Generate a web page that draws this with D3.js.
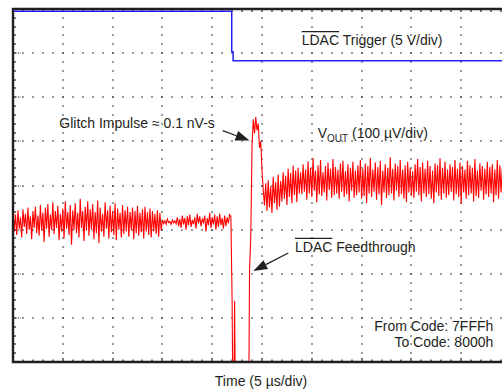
<!DOCTYPE html>
<html><head><meta charset="utf-8">
<script src="https://cdn.jsdelivr.net/npm/d3@7"></script>
<style>html,body{margin:0;padding:0;background:#fff;} svg{display:block;}</style>
</head><body><svg id="c" width="502" height="390"></svg>
<script>
const sampleUs = 0.125;            // sample interval
const voutPreUv = [
-60,-104,-66,-112,-56,-98,-72,-118,-54,-94,
-64,-110,-50,-100,-70,-122,-58,-96,-48,-108,
-68,-114,-44,-102,-62,-128,-50,-98,-42,-116,
-66,-100,-38,-110,-58,-96,-46,-124,-64,-104,
-52,-120,-36,-98,-60,-112,-44,-134,-56,-100,
-40,-108,-62,-118,-30,-96,-58,-126,-48,-102,
-36,-114,-54,-100,-42,-122,-60,-108,-34,-130,
-50,-104,-64,-116,-38,-98,-56,-120,-46,-106,
-58,-112,-40,-124,-52,-100,-62,-118,-44,-110,
-56,-104,-48,-116,-60,-102,-50,-122,-58,-108,
-46,-114,-62,-106,-54,-120,-48,-104,-60,-112,
-52,-118,-58,-104,-64,-110,-56,-116,-62,-102];
const voutQuietUv = [
-78,-86,-80,-88,-76,-84,-82,-88,-78,-85,-80,-87,
-72,-92,-76,-96,-68,-88,-74,-100,-70,-90,
-66,-94,-78,-88,-72,-98,-64,-86,-70,-92,
-76,-84,-68,-104,-74,-90,-62,-96,-72,-88,
-66,-100,-70,-94,-64,-90,-74,-98,-68,-92,
-72,-86,-66,-70];
const voutGlitchUv = [
-262,-650,-262,-650,-650,-650,-650,-650,-650,-650,-650,-650,-650,-650,
-190,-115,90,150,118,155,125,140,85,100,35];
const voutSettleUv = [
-10,-45,5,-58,12,-50,-2,-62,20,-40,8,-55,25,-48,10,
-36,30,-30,22,-44,38,-26,28,-40,45,-22,34,-38,40,-18];
const voutPostUv = [
30,-20,48,-14,36,-32,55,-18,40,-26,
62,-12,34,-38,46,-20,58,-24,30,-16,
44,-34,52,-10,38,-28,60,-22,42,-18,
36,-30,50,-14,56,-26,32,-20,48,-36,
40,-12,54,-28,34,-22,46,-16,58,-30,
38,-24,50,-40,44,-18,62,-26,36,-14,
52,-32,42,-20,56,-44,34,-16,48,-28,
40,-22,64,-18,38,-34,50,-12,44,-26,
58,-20,36,-30,46,-38,54,-16,40,-24,
32,-28,48,-14,60,-22,42,-36,52,-18,
38,-26,56,-20,44,-30,34,-40,50,-16,
46,-24,62,-32,40,-18,54,-28,36,-22,
48,-14,42,-34,58,-20,38,-26,52,-42,
44,-16,36,-30,56,-22,46,-18,40,-36,
60,-24,34,-28,50,-12,44,-32,38,-20,
54,-26,42,-18,48,-38,36,-22,58,-30,
46,-16,40];
const triggerTimesUs = [0, 21.96, 21.96, 22.1, 22.1, 50];
const triggerVolts   = [5.6, 5.6, 1.0, 1.0, 0, 0];

const timeDomainUs = [0, 50];        // 10 div x 5 us
const voutDomainUv = [-400, 400];    // 8 div x 100 uV
const triggerDomainV = [-34.15, 5.85]; // 8 div x 5 V, offset
const timeMajorUs = d3.range(0, 50.001, 5);
const timeMinorUs = d3.range(0, 50.001, 1);
const voutMajorUv = d3.range(-400, 400.001, 100);
const voutMinorUv = d3.range(-400, 400.001, 20);

const labels = {
  trigger: ["LDAC", " Trigger (5 V/div)"],
  glitch: "Glitch Impulse \u2248 0.1 nV-s",
  vout: ["V", "OUT", " (100 \u00b5V/div)"],
  feed: ["LDAC", " Feedthrough"],
  from: "From Code: 7FFFh",
  to: "To Code: 8000h",
  xAxis: "Time (5 \u00b5s/div)"
};

// ---- drawing ----
const svg = d3.select("#c");
const plot = {left: 13, top: 9, right: 511, bottom: 362};
const x = d3.scaleLinear().domain(timeDomainUs).range([plot.left, plot.right]);
const y = d3.scaleLinear().domain(voutDomainUv).range([plot.bottom, plot.top]);
const yT = d3.scaleLinear().domain(triggerDomainV).range([plot.bottom, plot.top]);
const ink = "#231f20";
const font = "'Liberation Sans', Arial, Helvetica, sans-serif";

svg.append("defs").append("clipPath").attr("id", "clip")
  .append("rect").attr("x", plot.left).attr("y", plot.top)
  .attr("width", plot.right - plot.left).attr("height", plot.bottom - plot.top);

// grid dots
const grid = svg.append("g").attr("fill", "#333");
const dots = [];
voutMajorUv.slice(1, -1).forEach(v => timeMinorUs.slice(1).forEach(t => dots.push([x(t), y(v)])));
timeMajorUs.slice(1, -1).forEach(t => voutMinorUv.slice(1, -1).forEach(v => dots.push([x(t), y(v)])));
grid.selectAll("rect.d").data(dots).join("rect").attr("class", "d")
  .attr("x", d => Math.round(d[0]) - 0.7).attr("y", d => Math.round(d[1]) - 0.7)
  .attr("width", 1.4).attr("height", 1.4);
// short dotted ticks at the left edge of major rows
const ticks = svg.append("g").attr("stroke", ink).attr("stroke-width", 1.2);
voutMajorUv.slice(1, -1).forEach(v => {
  ticks.append("line").attr("x1", plot.left).attr("x2", plot.left + 8)
    .attr("y1", Math.round(y(v))).attr("y2", Math.round(y(v)))
    .attr("stroke-dasharray", "1.2,1.3");
});
voutMinorUv.slice(1, -1).forEach(v => {
  ticks.append("line").attr("x1", plot.left).attr("x2", plot.left + 3)
    .attr("y1", Math.round(y(v))).attr("y2", Math.round(y(v)));
});
timeMinorUs.slice(1).forEach(t => {
  const len = timeMajorUs.includes(t) ? 4 : 2.5;
  ticks.append("line").attr("x1", Math.round(x(t))).attr("x2", Math.round(x(t)))
    .attr("y1", plot.top).attr("y2", plot.top + 3);
  ticks.append("line").attr("x1", Math.round(x(t))).attr("x2", Math.round(x(t)))
    .attr("y1", plot.bottom).attr("y2", plot.bottom - len);
});

// traces
const traces = svg.append("g").attr("clip-path", "url(#clip)");
const trig = triggerTimesUs.map((t, i) => [t, triggerVolts[i]]);
traces.append("path").datum(trig)
  .attr("d", d3.line().x(d => x(d[0])).y(d => yT(d[1])))
  .attr("fill", "none").attr("stroke", "#1f1fff").attr("stroke-width", 1.5);

const vout = [].concat(voutPreUv, voutQuietUv, voutGlitchUv, voutSettleUv, voutPostUv);
traces.append("path").datum(vout)
  .attr("d", d3.line().x((d, i) => x(i * sampleUs)).y(d => y(d)))
  .attr("fill", "none").attr("stroke", "#ff0000").attr("stroke-width", 1.1)
  .attr("stroke-linejoin", "miter");

// frame
const frame = svg.append("g").attr("stroke", ink).attr("stroke-width", 2.4).attr("fill", "none");
frame.append("path").attr("d", `M${plot.right},${plot.top}H${plot.left}V${plot.bottom}H${plot.right}`);

// texts
const txt = svg.append("g").attr("font-family", font).attr("font-size", 14).attr("fill", ink);
function overlined(xp, yp, parts) {
  const t = txt.append("text").attr("x", xp).attr("y", yp);
  t.append("tspan").text(parts[0]);
  t.append("tspan").text(parts[1]);
  const w = t.node().getSubStringLength(0, parts[0].length);
  txt.append("line").attr("x1", xp).attr("x2", xp + w)
    .attr("y1", yp - 13.3).attr("y2", yp - 13.3)
    .attr("stroke", ink).attr("stroke-width", 1.3);
}
overlined(301.7, 45, labels.trigger);
overlined(295, 251.7, labels.feed);
txt.append("text").attr("x", 59.3).attr("y", 128.3).text(labels.glitch);
const vt = txt.append("text").attr("x", 317.7).attr("y", 138);
vt.append("tspan").text(labels.vout[0]);
vt.append("tspan").attr("font-size", 10).attr("dy", 3.5).text(labels.vout[1]);
vt.append("tspan").attr("dy", -3.5).text(labels.vout[2]);
txt.append("text").attr("x", 493.3).attr("y", 330.7).attr("text-anchor", "end").text(labels.from);
txt.append("text").attr("x", 493.3).attr("y", 346.7).attr("text-anchor", "end").text(labels.to);
txt.append("text").attr("x", 261).attr("y", 386).attr("text-anchor", "middle").text(labels.xAxis);

// arrows
function arrow(x1, y1, x2, y2) {
  const dx = x2 - x1, dy = y2 - y1, L = Math.hypot(dx, dy);
  const ux = dx / L, uy = dy / L, hl = 14, hw = 5;
  const bx = x2 - ux * hl, by = y2 - uy * hl;
  svg.append("line").attr("x1", x1).attr("y1", y1).attr("x2", bx).attr("y2", by)
    .attr("stroke", ink).attr("stroke-width", 1.3);
  svg.append("path")
    .attr("d", `M${x2},${y2}L${bx - uy * hw},${by + ux * hw}L${bx + uy * hw},${by - ux * hw}Z`)
    .attr("fill", ink);
}
arrow(222.7, 130.7, 249.5, 140.6);
arrow(288.3, 253, 253.3, 271);
</script></body></html>
